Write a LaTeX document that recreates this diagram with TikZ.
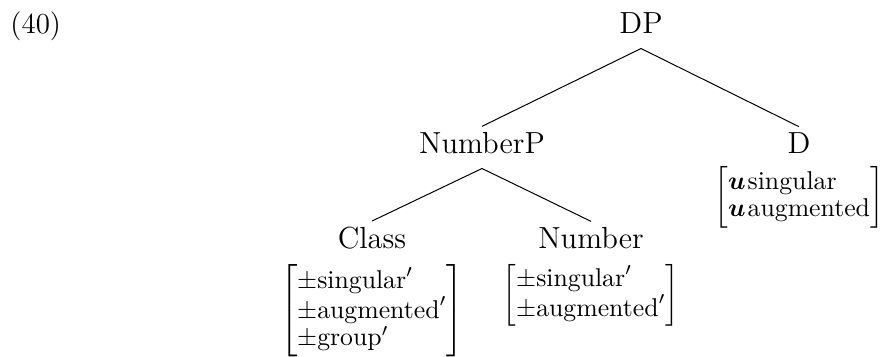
\RequirePackage{fix-cm}
\documentclass[tikz,border=0pt]{standalone}
\usepackage{amsmath}
\usepackage{amssymb}
\usepackage{tikz}
\usetikzlibrary{positioning}

\begin{document}
\begin{tikzpicture}[x=0.4pt,y=-0.4pt,
    cat/.style={inner sep=2pt,text depth=4pt,font=\fontsize{12.2}{14}\selectfont},
    feats/.style={inner sep=0pt,font=\fontsize{10.3}{10.7}\selectfont}]
    \useasboundingbox (0,0) rectangle (881,356);
    \node [anchor=base west,inner sep=0pt,font=\fontsize{11.6}{13}\selectfont] (ex) at (10,33) {(40)};
    \node [cat,anchor=base] (DP) at (641,33) {DP};
    \node [cat,anchor=base] (NumberP) at (482,153) {NumberP};
    \node [cat,anchor=base] (D) at (799,153) {D};
    \node [cat,anchor=base] (Class) at (372,248) {Class};
    \node [cat,anchor=base] (Number) at (591,248) {Number};
    \node [feats,below=-1pt of D] (Dfeat) {$\left[\begin{array}{@{}l@{}}
        \boldsymbol{u}\mkern1.5mu\text{singular}\\
        \boldsymbol{u}\mkern1.5mu\text{augmented}
      \end{array}\right]$};
    \node [feats,below=0pt of Class] (Classfeat) {$\left[\begin{array}{@{}l@{}}
        \pm\text{singular}'\\
        \pm\text{augmented}'\\
        \pm\text{group}'
      \end{array}\right]$};
    \node [feats,below=0pt of Number] (Numberfeat) {$\left[\begin{array}{@{}l@{}}
        \pm\text{singular}'\\
        \pm\text{augmented}'
      \end{array}\right]$};
    \draw (DP.south) -- (NumberP.north);
    \draw (DP.south) -- (D.north);
    \draw (NumberP.south) -- (Class.north);
    \draw (NumberP.south) -- (Number.north);
\end{tikzpicture}
\end{document}
